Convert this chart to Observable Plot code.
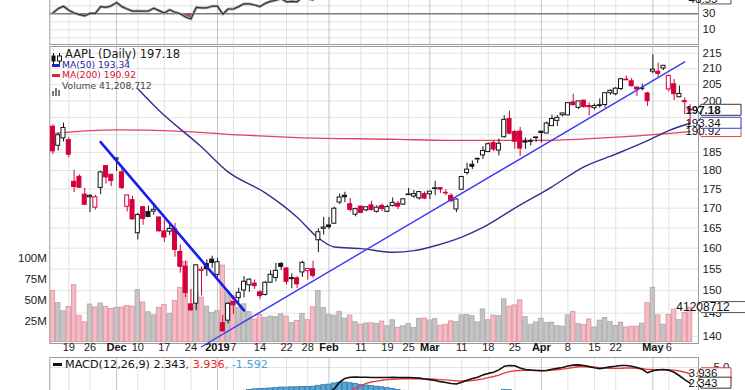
<!DOCTYPE html>
<html>
<head>
<meta charset="utf-8">
<script src="https://cdn.jsdelivr.net/npm/d3@7"></script>
<script src="https://cdn.jsdelivr.net/npm/@observablehq/plot@0.6"></script>
<style>
html, body { margin:0; padding:0; background:#fff; overflow:hidden; }
#chart { position:relative; width:745px; height:390px; overflow:hidden; background:#fff; }
#chart > svg { position:absolute; left:0; }
.lg { position:absolute; white-space:nowrap; font-family:"DejaVu Sans", Verdana, sans-serif; }
</style>
</head>
<body>
<div id="chart"></div>
<script>
// ---------------- DATA ----------------
const dates = [
"2018-11-14","2018-11-15","2018-11-16","2018-11-19","2018-11-20","2018-11-21","2018-11-23","2018-11-26","2018-11-27","2018-11-28",
"2018-11-29","2018-11-30","2018-12-03","2018-12-04","2018-12-06","2018-12-07","2018-12-10","2018-12-11","2018-12-12","2018-12-13",
"2018-12-14","2018-12-17","2018-12-18","2018-12-19","2018-12-20","2018-12-21","2018-12-24","2018-12-26","2018-12-27","2018-12-28",
"2018-12-31","2019-01-02","2019-01-03","2019-01-04","2019-01-07","2019-01-08","2019-01-09","2019-01-10","2019-01-11","2019-01-14",
"2019-01-15","2019-01-16","2019-01-17","2019-01-18","2019-01-22","2019-01-23","2019-01-24","2019-01-25","2019-01-28","2019-01-29",
"2019-01-30","2019-01-31","2019-02-01","2019-02-04","2019-02-05","2019-02-06","2019-02-07","2019-02-08","2019-02-11","2019-02-12",
"2019-02-13","2019-02-14","2019-02-15","2019-02-19","2019-02-20","2019-02-21","2019-02-22","2019-02-25","2019-02-26","2019-02-27",
"2019-02-28","2019-03-01","2019-03-04","2019-03-05","2019-03-06","2019-03-07","2019-03-08","2019-03-11","2019-03-12","2019-03-13",
"2019-03-14","2019-03-15","2019-03-18","2019-03-19","2019-03-20","2019-03-21","2019-03-22","2019-03-25","2019-03-26","2019-03-27",
"2019-03-28","2019-03-29","2019-04-01","2019-04-02","2019-04-03","2019-04-04","2019-04-05","2019-04-08","2019-04-09","2019-04-10",
"2019-04-11","2019-04-12","2019-04-15","2019-04-16","2019-04-17","2019-04-18","2019-04-22","2019-04-23","2019-04-24","2019-04-25",
"2019-04-26","2019-04-29","2019-04-30","2019-05-01","2019-05-02","2019-05-03","2019-05-06","2019-05-07","2019-05-08","2019-05-09",
"2019-05-10"];

const open = [
192.33,186.86,188.96,188.46,176.93,178.27,173.52,172.83,170.12,175.30,
181.18,178.83,182.97,179.48,170.37,172.08,163.66,170.27,169.02,169.11,
167.63,164.11,164.04,164.66,159.10,155.59,146.95,147.10,154.58,156.22,
157.25,153.64,142.81,143.36,147.50,148.35,150.06,151.26,151.64,149.63,
149.05,151.84,152.95,156.22,155.14,152.90,152.86,154.22,154.53,154.98,
161.93,164.76,165.61,166.05,171.46,173.24,171.00,168.34,170.39,169.45,
170.73,169.06,170.59,169.06,170.53,171.14,170.92,173.49,173.04,172.54,
173.65,173.61,175.02,175.26,174.00,173.20,169.67,174.82,179.31,181.55,
183.19,184.14,185.09,187.63,185.51,189.29,194.59,190.77,190.92,188.03,
188.22,189.10,190.90,190.36,192.51,194.04,195.70,195.67,199.55,197.92,
200.08,198.44,197.82,198.69,198.77,202.34,202.05,203.65,206.56,206.04,
204.11,203.62,202.28,209.07,209.03,210.08,203.51,205.09,201.12,199.63,
197.42];
const high = [
192.90,190.42,193.39,189.16,180.00,178.81,175.17,173.53,173.35,179.82,
181.32,178.87,183.44,180.91,173.36,173.08,168.71,170.40,170.53,171.17,
167.71,166.99,166.17,166.09,160.80,156.88,150.32,155.96,155.50,157.24,
158.07,157.56,144.54,147.35,147.62,150.59,153.28,152.72,152.46,150.04,
152.15,154.62,156.38,156.60,155.46,153.88,153.23,156.85,155.06,156.85,
164.80,167.63,167.61,170.27,173.66,174.15,172.53,170.00,170.55,170.34,
171.82,170.60,171.04,170.78,172.65,171.71,172.34,175.19,174.63,174.33,
174.24,174.48,177.07,175.32,174.82,173.77,172.41,178.43,181.97,182.60,
183.39,186.61,187.67,188.26,188.76,195.58,196.93,191.24,192.14,189.03,
188.83,189.35,190.94,193.71,195.75,195.62,196.34,199.46,202.07,199.97,
200.23,199.37,199.08,200.60,202.60,203.37,204.15,206.95,207.68,206.96,
204.21,205.18,202.62,214.48,211.83,211.03,208.04,206.62,204.55,200.91,
198.85];
const low = [
184.42,185.39,187.93,183.49,174.09,175.12,170.71,168.88,169.50,173.51,
176.26,175.60,179.74,174.84,169.04,166.94,162.01,165.65,167.65,168.18,
163.94,161.41,163.06,157.80,154.04,148.42,145.40,145.53,148.85,153.30,
155.21,152.98,140.85,142.64,144.72,147.32,148.42,149.64,150.28,148.01,
148.83,151.76,152.02,154.72,151.38,150.47,150.51,153.07,152.42,152.86,
158.93,163.23,164.59,165.93,170.95,171.45,168.96,167.77,168.60,169.05,
169.27,168.73,169.10,168.84,170.33,169.65,170.72,173.28,172.50,172.07,
172.26,172.23,173.30,173.87,173.27,171.36,168.85,174.68,178.68,180.23,
181.86,183.03,185.08,185.21,184.02,189.08,190.05,185.88,183.87,185.83,
186.81,187.82,187.66,190.32,192.41,192.40,195.18,195.59,198.47,197.42,
197.68,195.46,197.25,197.80,197.85,201.74,201.56,203.12,206.25,204.33,
201.34,203.08,198.35,208.43,207.33,209.42,202.72,200.06,200.98,195.90,
192.77];
const close = [
185.29,189.86,191.96,184.35,175.55,175.35,170.89,173.21,172.83,179.47,
178.10,177.13,183.32,175.26,173.30,167.13,168.23,167.26,167.73,169.57,
164.14,162.61,164.72,159.59,155.56,149.51,145.64,155.90,154.89,154.96,
156.46,156.64,141.04,147.06,146.73,149.53,152.07,152.55,151.06,148.79,
151.83,153.69,154.60,155.55,152.06,152.67,151.46,156.48,155.03,153.43,
163.91,165.09,165.17,169.86,172.77,172.83,169.56,169.76,168.78,170.23,
169.53,170.14,169.77,170.27,171.37,170.40,172.31,173.56,173.66,174.20,
172.49,174.30,175.17,174.86,173.85,171.84,172.25,178.21,180.22,181.01,
183.02,185.41,187.30,185.81,187.44,194.34,190.32,188.02,186.07,187.75,
188.00,189.22,190.51,193.27,194.60,194.94,196.24,199.33,198.73,199.85,
198.19,198.11,198.46,198.48,202.35,203.08,203.74,206.68,206.36,204.49,
203.52,203.82,199.90,209.71,208.35,210.94,207.68,202.08,202.12,199.95,
197.18];
const priorClose = 190.67; // close of the session before the first candle

// volume in millions of shares
const volume = [
60.8,46.5,36.9,41.9,67.8,31.1,23.6,44.9,41.4,46.1,
41.8,39.5,40.8,41.3,43.1,42.3,62.0,47.3,35.6,31.9,
40.7,44.3,33.8,49.0,64.8,95.7,37.2,58.6,53.1,42.3,
35.0,37.0,91.3,58.6,54.8,41.0,45.1,35.8,27.0,32.4,
28.7,30.6,29.8,33.1,30.4,23.1,25.4,33.5,26.2,41.6,
61.1,40.7,32.7,31.5,36.1,28.2,31.7,23.8,20.9,22.3,
22.5,21.8,24.6,19.0,26.1,17.2,18.9,21.9,17.1,27.8,
28.2,25.9,27.4,19.7,20.8,24.8,23.9,32.0,32.5,31.0,
23.6,39.0,26.2,31.6,31.0,51.0,42.4,43.8,49.8,29.8,
20.8,23.6,27.9,22.8,23.3,19.1,18.5,32.0,35.8,21.7,
20.3,27.1,17.5,25.7,28.9,24.2,19.4,23.3,17.5,18.5,
18.6,22.2,46.5,64.8,31.9,20.9,32.4,38.8,26.3,34.9,
41.208712];

const ma50Dates = ["2018-12-10","2018-12-14","2018-12-27","2019-01-04","2019-01-15","2019-01-24","2019-01-30","2019-02-04","2019-02-11","2019-02-20","2019-02-26","2019-03-04","2019-03-11","2019-03-15","2019-03-25","2019-04-03","2019-04-11","2019-04-22","2019-04-30","2019-05-06","2019-05-10"];
const ma50Values = [203.7,197.1,186.5,179.6,174.0,167.7,162.5,160.3,159.9,159.0,159.4,160.6,162.7,165.1,170.0,175.6,181.0,184.5,188.3,191.2,193.34];

const ma200Dates = ["2018-11-14","2018-12-03","2018-12-20","2019-01-10","2019-01-24","2019-02-21","2019-03-06","2019-04-02","2019-04-22","2019-05-10"];
const ma200Values = [190.4,191.4,191.0,189.8,189.2,188.7,188.4,188.4,189.3,190.92];

const trendDownDates = ["2018-11-28","2019-01-09"];
const trendDownValues = [187.9,145.6];
const trendUpDates = ["2018-12-27","2019-05-09"];
const trendUpValues = [137.8,212.2];

const rsi = [
31,36.5,39.5,34.5,31,29,27.5,30.5,30.5,39,
38,40,44,39,36,33.3,33.5,33.3,33.5,37,
34,31,35,32,30,26,23.5,38,37.5,37.5,
39.5,39.5,29.5,36,36,39,42.5,42.5,41,39,
43,45.5,47,49,45,45.5,45,51,49,47.5,
58,60,60,64,67,67,61,61,59,61,
60,61,60,61,63,61,64,66,66,67,
63,66,67,66,64,60,61,69,72,73,
75,77,79,75,77,83,70,64,60,63,
63,65,67,71,73,73,75,79,76,78,
73,73,73,73,78,79,80,83,81,75,
72,72,60,73,70,72,63,55,55,52,
48.55];

const macdStartDate = "2019-01-02";
const macdValues = [
-7.4,-7.9,-7.6,-7.2,-6.6,-5.9,-5.2,-4.6,-4.1,-3.5,
-2.9,-2.3,-1.8,-1.6,-1.3,-1.1,-0.8,-0.8,-0.9,-0.1,
0.3,0.7,1.4,2.5,3.15,3.35,3.4,3.35,3.35,3.3,
3.3,3.3,3.3,3.35,3.3,3.3,3.3,3.25,3.2,3.05,
2.95,2.8,2.6,2.45,2.3,2.2,2.5,2.85,3.15,3.35,
3.75,4.0,4.2,4.6,5.2,5.35,5.3,4.9,4.65,4.55,
4.5,4.45,4.5,4.7,4.85,5.0,5.25,5.4,5.45,5.35,
5.15,4.95,4.8,4.95,5.1,5.2,5.35,5.35,5.2,5.0,
4.7,4.1,4.45,4.6,4.65,4.55,4.2,3.6,2.95,2.343];
const signalValues = [
-6.0,-6.3,-6.5,-6.6,-6.6,-6.5,-6.4,-6.2,-5.9,-5.6,
-5.3,-4.9,-4.5,-4.2,-3.9,-3.6,-3.3,-3.0,-2.7,-2.3,
-1.8,-1.3,-0.7,-0.1,0.5,1.0,1.5,1.9,2.3,2.55,
2.7,2.85,2.95,3.0,3.05,3.1,3.1,3.1,3.1,3.08,
3.05,3.0,2.95,2.9,2.82,2.75,2.7,2.72,2.8,2.92,
3.08,3.28,3.48,3.7,4.05,4.3,4.45,4.5,4.52,4.52,
4.52,4.5,4.5,4.55,4.62,4.72,4.85,5.0,5.12,5.15,
5.12,5.05,4.98,4.92,4.88,4.86,4.88,4.92,4.92,4.88,
4.8,4.68,4.65,4.64,4.63,4.62,4.55,4.4,4.2,3.936];
const histDates = ["2019-01-09","2019-01-10","2019-01-11","2019-01-14","2019-01-15","2019-01-16","2019-01-17","2019-01-18","2019-01-22","2019-01-23",
"2019-01-24","2019-01-25","2019-01-28","2019-01-29","2019-01-30","2019-01-31","2019-02-01","2019-02-04","2019-02-05","2019-02-06",
"2019-02-07","2019-02-08","2019-02-11","2019-02-12","2019-02-13","2019-02-14","2019-02-15","2019-02-19","2019-02-20","2019-02-21",
"2019-02-22","2019-03-21","2019-03-22"];
const histValues = [1.05,1.2,1.3,1.35,1.4,1.45,1.5,1.6,1.6,1.65,
1.65,1.7,1.7,1.75,1.9,2.0,2.1,2.3,2.45,2.45,
2.35,2.2,2.05,1.95,1.85,1.75,1.65,1.5,1.35,1.2,
1.05,1.2,1.15];

const tickDates = ["2018-11-19","2018-11-26","2018-12-03","2018-12-10","2018-12-17","2018-12-24","2019-01-02","2019-01-07","2019-01-14","2019-01-22","2019-01-28","2019-02-01","2019-02-11","2019-02-19","2019-02-25","2019-03-01","2019-03-11","2019-03-18","2019-03-25","2019-04-01","2019-04-08","2019-04-15","2019-04-22","2019-05-01","2019-05-06"];
const tickLabels = ["19","26","Dec","10","17","24","2019","7","14","22","28","Feb","11","19","25","Mar","11","18","25","Apr","8","15","22","May","6"];
const tickBold = [0,0,1,0,0,0,1,0,0,0,0,1,0,0,0,1,0,0,0,1,0,0,0,1,0];

const priceTicks = [140,145,150,155,160,165,170,175,180,185,190,195,200,205,210,215];
const priceLabelTicks = [140,145,150,155,160,165,170,175,180,185,200,205,210,215]; // 190 and 195 sit under the value boxes
const volumeTicks = [25,50,75,100];
const rsiTicks = [10,30];
const rsiGrid = [0,10,20,40];

// ---------------- BUILD ----------------
const chart = document.getElementById("chart");
const W = 745, ML = 49.3, MR = 47;
const X_DOMAIN = [-0.578, 121.59];
const N = dates.length;
const iOf = new Map(dates.map((d, i) => [d, i]));
const bars = dates.map((d, i) => ({i, o: open[i], h: high[i], l: low[i], c: close[i], v: volume[i], pc: i ? close[i - 1] : priorClose}));
const isDown = d => d.c < d.pc;
const RED = "#d3003a", BLK = "#151515";
const ticks = tickDates.map((d, k) => ({i: iOf.get(d), label: tickLabels[k], bold: !!tickBold[k]}));
const series = (ds, vs) => ds.map((d, k) => ({i: iOf.get(d), v: vs[k]}));
const ma50 = series(ma50Dates, ma50Values);
const ma200 = series(ma200Dates, ma200Values);
const trendDown = series(trendDownDates, trendDownValues);
const trendUp = series(trendUpDates, trendUpValues);
const rsiData = rsi.map((v, i) => ({i, v}));
const m0 = iOf.get(macdStartDate);
const macdData = macdValues.map((v, k) => ({i: m0 + k, v}));
const signalData = signalValues.map((v, k) => ({i: m0 + k, v}));
const histData = series(histDates, histValues);

const baseStyle = {background: "transparent", color: "#222", fontFamily: "'Liberation Sans', Arial, sans-serif", fontSize: "11.5px", overflow: "visible"};

function valueBox(value, label, color, opts = {}) {
  const {bold = false, w = 40, h = 11, size = 11.5} = opts;
  return (index, scales, values, dim) => {
    const y = scales.y(value);
    const x0 = dim.width - dim.marginRight - 1;
    const g = d3.create("svg:g");
    g.append("path")
      .attr("d", `M${x0},${y}L${x0 + 4},${y - h / 2}H${x0 + 4 + w}V${y + h / 2}H${x0 + 4}Z`)
      .attr("fill", "#fff").attr("stroke", color).attr("stroke-width", 1);
    g.append("text").attr("x", x0 + 6).attr("y", y).attr("dy", "0.36em")
      .attr("font-size", size).attr("font-weight", bold ? "bold" : "normal")
      .attr("fill", "#111").text(label);
    return g.node();
  };
}

function place(el, top) { el.style.position = "absolute"; el.style.left = "0px"; el.style.top = top + "px"; chart.appendChild(el); }

const mainDims = {width: W, height: 357, marginTop: 46, marginBottom: 14, marginLeft: ML, marginRight: MR};
const priceY = {type: "log", domain: [140, 215], range: [335.8, 52.7]};

// Layer 1: grid, frame, price labels, date labels
place(Plot.plot({
  ...mainDims, style: baseStyle,
  x: {domain: X_DOMAIN, axis: null},
  y: {...priceY, axis: "right", ticks: priceLabelTicks, tickFormat: d => String(d), tickSize: 0, tickPadding: 4, label: null},
  marks: [
    Plot.ruleY(priceTicks, {stroke: "#e3e3e3"}),
    Plot.ruleX(ticks, {x: "i", stroke: d => d.bold ? "#c4c4c4" : "#e2e2e2"}),
    Plot.frame({stroke: "#9c9c9c"}),
    Plot.text(ticks.filter(t => !t.bold), {x: "i", text: "label", frameAnchor: "bottom", dy: 7, fontSize: 11, fill: "#222"}),
    Plot.text(ticks.filter(t => t.bold), {x: "i", text: "label", frameAnchor: "bottom", dy: 7, fontSize: 11, fontWeight: "bold", fill: "#111"})
  ]
}), 0);

// Layer 2: volume
place(Plot.plot({
  ...mainDims, style: baseStyle,
  x: {domain: X_DOMAIN, axis: null},
  y: {domain: [0, 100], range: [341.7, 257.7], axis: "left", ticks: volumeTicks, tickFormat: d => d + "M", tickSize: 0, tickPadding: 3, label: null},
  marks: [
    Plot.rect(bars, {x1: d => d.i - 0.5, x2: d => d.i + 0.5, y1: 0, y2: "v", insetLeft: 0.4, insetRight: 0.4,
      fill: d => isDown(d) ? "#f3bcc5" : "#c4c4c4", stroke: d => isDown(d) ? "#e08d9c" : "#a9a9a9", strokeWidth: 0.8, clip: true}),
    valueBox(volume[N - 1], "41208712", "#555", {w: 60, size: 12})
  ]
}), 0);

// Layer 3: price
place(Plot.plot({
  ...mainDims, style: baseStyle,
  x: {domain: X_DOMAIN, axis: null},
  y: {...priceY, axis: null},
  marks: [
    Plot.line(ma200, {x: "i", y: "v", stroke: "#e2425e", strokeWidth: 1.3, curve: "monotone-x", clip: true}),
    Plot.line(ma50, {x: "i", y: "v", stroke: "#30308e", strokeWidth: 1.4, curve: "monotone-x", clip: true}),
    Plot.ruleX(bars, {x: "i", y1: "l", y2: "h", stroke: d => isDown(d) ? RED : BLK, strokeWidth: 1, clip: true}),
    Plot.rect(bars, {x1: d => d.i - 0.38, x2: d => d.i + 0.38, y1: "o", y2: "c",
      fill: d => d.c < d.o ? (isDown(d) ? RED : BLK) : "#ffffff", stroke: d => isDown(d) ? RED : BLK, strokeWidth: 1, clip: true}),
    Plot.ruleY(bars.filter(d => Math.abs(d.c - d.o) < 0.15), {y: "c", x1: d => d.i - 0.45, x2: d => d.i + 0.45, stroke: d => isDown(d) ? RED : BLK, strokeWidth: 1.2}),
    Plot.line(trendDown, {x: "i", y: "v", stroke: "#1a1af2", strokeWidth: 2.6}),
    Plot.line(trendUp, {x: "i", y: "v", stroke: "#3b3bf4", strokeWidth: 1.4}),
    valueBox(ma200Values[ma200Values.length - 1], "190.92", "#e2425e"),
    valueBox(ma50Values[ma50Values.length - 1], "193.34", "#3a3acc"),
    valueBox(close[N - 1], "197.18", "#333", {bold: true})
  ]
}), 0);

// Layer 4: RSI panel (top, partly cut)
place(Plot.plot({
  width: W, height: 48, marginTop: 0, marginBottom: 1, marginLeft: ML, marginRight: MR, style: baseStyle,
  x: {domain: X_DOMAIN, axis: null},
  y: {domain: [10, 30], range: [32.3, 16.3], axis: "right", ticks: rsiTicks, tickFormat: d => String(d), tickSize: 0, tickPadding: 4, label: null},
  marks: [
    Plot.ruleY(rsiGrid, {stroke: "#e3e3e3"}),
    Plot.ruleX(ticks, {x: "i", stroke: d => d.bold ? "#c4c4c4" : "#e2e2e2"}),
    Plot.ruleY([30], {stroke: "#7c7c7c", strokeWidth: 1.5}),
    Plot.areaY(rsiData, {x: "i", y1: 30, y2: d => Math.min(d.v, 30), fill: "#9a5560", clip: true}),
    Plot.line(rsiData, {x: "i", y: "v", stroke: "#a8a8a8", strokeWidth: 2.8, clip: true}),
    Plot.line(rsiData, {x: "i", y: "v", stroke: "#333", strokeWidth: 1.2, clip: true}),
    Plot.frame({stroke: "#9c9c9c"}),
    valueBox(rsi[N - 1], "48.55", "#555", {w: 30})
  ]
}), -3);

// Layer 5: MACD panel (bottom, partly cut)
place(Plot.plot({
  width: W, height: 44, marginTop: 0, marginBottom: 0, marginLeft: ML, marginRight: MR, style: baseStyle,
  x: {domain: X_DOMAIN, axis: null},
  y: {domain: [0, 5], range: [39.5, 10.0], axis: null},
  marks: [
    Plot.ruleY([5], {stroke: "#e3e3e3"}),
    Plot.ruleX(ticks, {x: "i", stroke: d => d.bold ? "#c4c4c4" : "#e2e2e2"}),
    Plot.rect(histData, {x1: d => d.i - 0.5, x2: d => d.i + 0.5, y1: 0, y2: "v", insetLeft: 0.3, insetRight: 0.3, fill: "#58a6d6", stroke: "#2d78a8", strokeWidth: 0.8, clip: true}),
    Plot.line(signalData, {x: "i", y: "v", stroke: "#f03a3a", strokeWidth: 1.4, clip: true}),
    Plot.line(macdData, {x: "i", y: "v", stroke: "#111", strokeWidth: 1.6, clip: true}),
    Plot.frame({stroke: "#9c9c9c"}),
    Plot.text([5], {x: X_DOMAIN[1], y: d => d, text: d => d.toFixed(1), dx: 15, textAnchor: "start", fontSize: 11.5, fill: "#222"}),
    valueBox(signalValues[signalValues.length - 1], "3.936", "#e03a3a", {w: 30}),
    valueBox(macdValues[macdValues.length - 1], "2.343", "#333", {w: 30})
  ]
}), 357);

// Legends (HTML overlays)
function addHTML(html) { const d = document.createElement("div"); d.innerHTML = html; while (d.firstChild) chart.appendChild(d.firstChild); }
addHTML(`
<div class="lg" style="left:51px;top:49px;width:12px;height:11px">
 <svg width="12" height="11"><line x1="2.5" y1="0" x2="2.5" y2="11" stroke="#111"/><rect x="0.5" y="2.5" width="4" height="6" fill="#111"/><line x1="8.5" y1="0" x2="8.5" y2="11" stroke="#111"/><rect x="6.5" y="3" width="4" height="5" fill="#fff" stroke="#111"/></svg></div>
<div class="lg" style="left:65px;top:47px;font-size:11.5px;line-height:14px;color:#222">AAPL (Daily) 197.18</div>
<div class="lg" style="left:52px;top:64px;width:8px;height:2.5px;background:#2424c0"></div>
<div class="lg" style="left:62px;top:60px;font-size:9.2px;line-height:10px;color:#1c1caa">MA(50) 193.34</div>
<div class="lg" style="left:52px;top:74px;width:8px;height:2.5px;background:#e0203e"></div>
<div class="lg" style="left:62px;top:70px;font-size:9.2px;line-height:10px;color:#d8103a">MA(200) 190.92</div>
<div class="lg" style="left:52px;top:81px;width:9px;height:9px">
 <svg width="9" height="9"><rect x="0" y="4" width="2" height="5" fill="#777"/><rect x="3" y="1" width="2" height="8" fill="#777"/><rect x="6" y="3" width="2" height="6" fill="#777"/></svg></div>
<div class="lg" style="left:62px;top:81px;font-size:9.2px;line-height:10px;color:#444">Volume 41,208,712</div>
<div class="lg" style="left:53px;top:363px;width:9px;height:2.5px;background:#111"></div>
<div class="lg" style="left:65px;top:358px;font-size:11.2px;line-height:13px;color:#111">MACD(12,26,9) 2.343<span style="color:#e02a2a">, 3.936</span><span style="color:#4aa3d8">, -1.592</span></div>
`);
</script>
</body>
</html>
